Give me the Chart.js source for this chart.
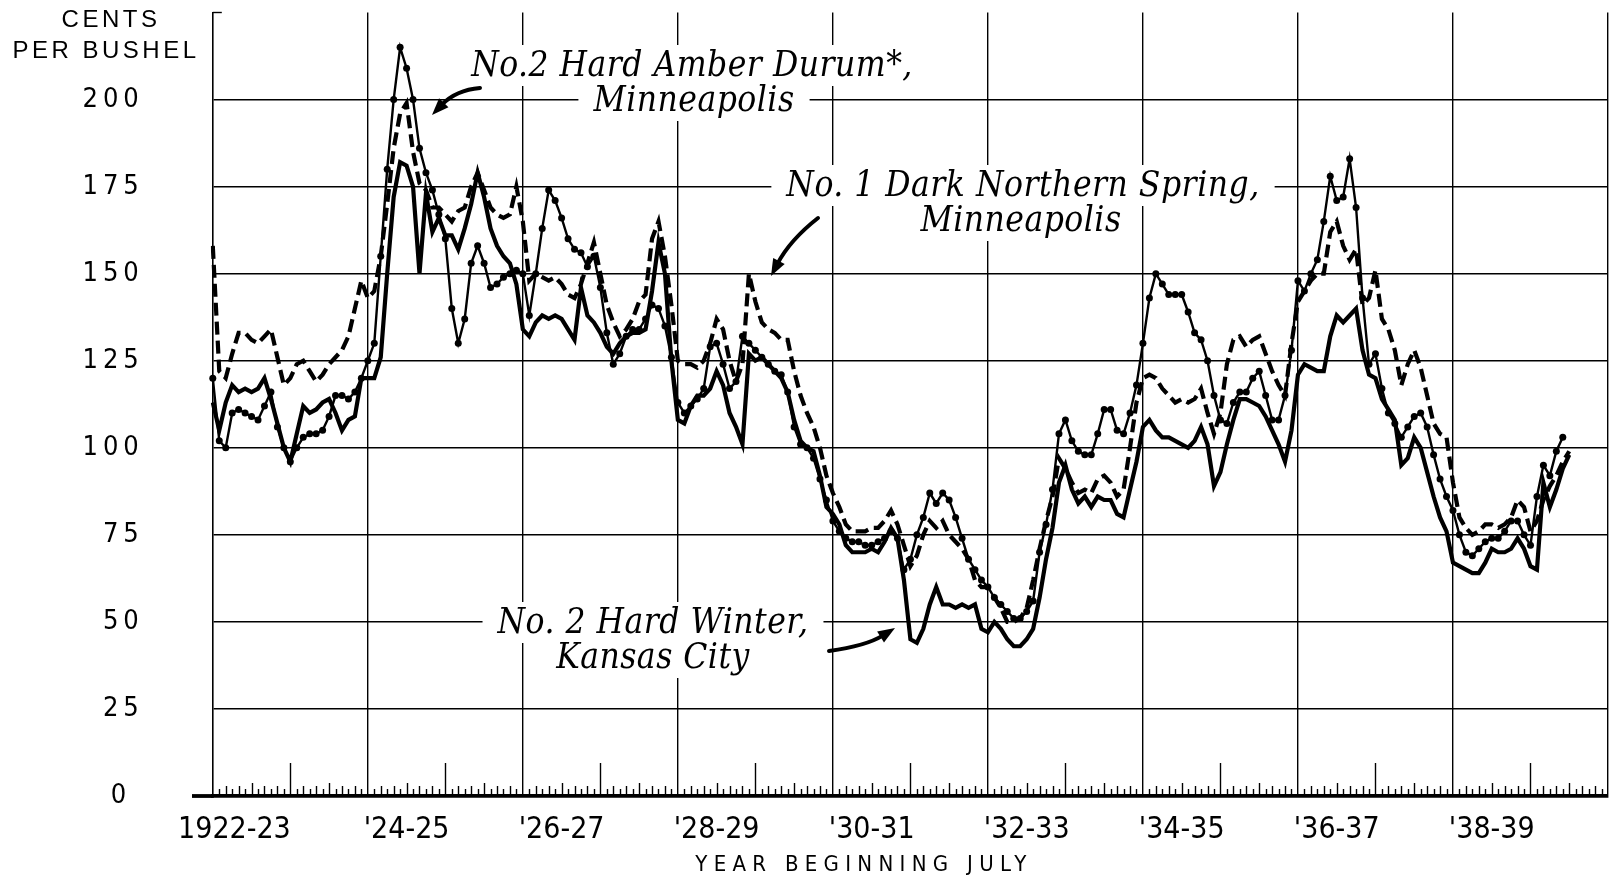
<!DOCTYPE html>
<html>
<head>
<meta charset="utf-8">
<script src="https://cdn.jsdelivr.net/npm/chart.js@4.4.1/dist/chart.umd.min.js"></script>
<style>
html,body{margin:0;padding:0;background:#fff;}
canvas{display:block;}
</style>
</head>
<body>
<canvas id="c" width="1612" height="878"></canvas>
<script>
// ---------- DATA ----------
const START_YEAR = 1922;               // crop year beginning July 1922
const MONTH_NAMES = ['Jul','Aug','Sep','Oct','Nov','Dec','Jan','Feb','Mar','Apr','May','Jun'];
const yearTickLabels = ["1922-23    ", "'24-25", "'26-27", "'28-29", "'30-31", "'32-33", "'34-35", "'36-37", "'38-39"];
const yTickValues = [0, 25, 50, 75, 100, 125, 150, 175, 200];
const xAxisTitle = 'YEAR BEGINNING JULY';
const yAxisTitle = ['CENTS', 'PER BUSHEL'];

// No. 2 Hard Winter, Kansas City (solid line), monthly from July 1922
const hardWinter = [
  113,105,113,118,116,117,116,117,120,114,107,100,
  96,104,112,110,111,113,114,110,105,108,109,120,
  120,120,126,150,172,182,181,175,150,173,162,166,
  161,161,157,163,170,179,172,163,158,155,153,147,
  134,132,136,138,137,138,137,134,131,146,138,136,
  133,129,127,130,132,133,133,134,145,159,150,125,
  108,107,112,115,115,117,122,118,110,106,101,127,
  125,126,124,122,120,116,108,102,100,99,92,83,
  81,78,72,70,70,70,71,70,73,77,74,62,
  45,44,48,55,60,55,55,54,55,54,55,48,
  47,50,48,45,43,43,45,48,57,68,77,90,
  95,88,84,86,83,86,85,85,81,80,88,96,
  106,108,105,103,103,102,101,100,102,106,101,89,
  93,101,108,114,114,113,112,109,105,101,96,105,
  121,124,123,122,122,132,138,136,138,140,128,121,
  120,114,111,108,95,97,103,100,93,86,80,76,
  67,66,65,64,64,67,71,70,70,71,74,71,
  66,65,90,83,88,94,98
];

// No. 1 Dark Northern Spring, Minneapolis (dashed line)
const darkNorthernSpring = [
  158,122,120,127,133,133,131,130,132,134,126,118,
  120,124,125,122,119,121,124,126,128,132,140,148,
  143,145,155,170,186,196,199,185,176,174,169,169,
  167,165,168,169,175,179,174,169,167,166,167,175,
  165,148,150,149,148,149,147,144,143,147,153,159,
  150,141,136,132,134,137,142,144,160,165,155,141,
  125,124,124,123,125,130,137,134,125,119,124,150,
  142,136,134,133,131,131,122,115,110,106,100,92,
  87,83,78,76,76,76,77,77,79,82,78,72,
  66,69,75,79,77,79,75,73,71,68,62,60,
  60,57,54,50,50,51,54,62,71,79,86,97,
  94,90,87,88,87,91,92,90,86,88,100,113,
  120,121,120,117,115,113,114,113,114,117,110,104,
  110,124,131,132,129,131,132,127,122,118,115,130,
  142,145,148,150,150,162,165,158,154,157,141,143,
  151,137,134,128,118,124,128,123,115,107,104,103,
  90,80,77,75,76,78,78,77,78,80,85,83,
  76,79,85,89,92,96,99
];

// No. 2 Hard Amber Durum*, Minneapolis (beaded line)
const hardAmberDurum = [
  120,102,100,110,111,110,109,108,112,116,106,100,
  96,100,103,104,104,105,109,115,115,114,116,120,
  125,130,155,180,200,215,209,200,186,179,174,167,
  160,140,130,137,153,158,153,146,147,149,150,151,
  150,138,150,163,174,171,166,160,157,156,152,155,
  146,133,124,127,132,134,134,137,141,140,135,126,
  113,110,112,114,117,129,130,124,117,119,132,130,
  128,126,124,122,121,116,106,101,100,97,91,85,
  79,76,74,73,73,72,72,73,74,76,74,65,
  68,75,80,87,84,87,85,80,74,68,65,62,
  60,57,55,53,51,51,53,56,70,78,88,104,
  108,102,99,98,98,104,111,111,105,104,110,118,
  130,143,150,147,144,144,144,139,133,131,125,115,
  108,107,113,116,116,120,122,115,108,108,115,128,
  148,145,150,154,165,178,171,172,183,169,143,124,
  127,117,110,107,103,106,109,110,106,98,91,86,
  82,75,70,69,71,73,74,74,76,79,79,75,
  72,86,95,92,99,103
];

// month categories, July 1922 .. July 1940
const categories = [];
for (let i = 0; i <= 216; i++) {
  const yr = START_YEAR + Math.floor(i / 12) + ((i % 12) >= 6 ? 1 : 0);
  categories.push(MONTH_NAMES[i % 12] + ' ' + yr);
}

const AXIS_FONT = '"DejaVu Sans Condensed", "Liberation Sans Narrow", "DejaVu Sans", sans-serif';
const NOTE_FONT = 'italic 35px "DejaVu Serif Condensed", "Liberation Serif", serif';

// ---------- PLUGINS ----------
// x tick labels are drawn with tight spacing, y tick labels (drawn later, z=1) letter-spaced
const spacing = {
  id: 'spacing',
  beforeUpdate(chart) { chart.ctx.letterSpacing = '5px'; },
  beforeDraw(chart) { chart.ctx.letterSpacing = '0px'; }
};

function arrow(ctx, x0, y0, cx, cy, x1, y1) {
  const a = Math.atan2(y1 - cy, x1 - cx);
  const L = 17, W = 6.5;
  const bx = x1 - L * Math.cos(a), by = y1 - L * Math.sin(a);
  ctx.beginPath();
  ctx.moveTo(x0, y0);
  ctx.quadraticCurveTo(cx, cy, bx + 3 * Math.cos(a), by + 3 * Math.sin(a));
  ctx.lineWidth = 4;
  ctx.lineCap = 'round';
  ctx.stroke();
  ctx.beginPath();
  ctx.moveTo(x1, y1);
  ctx.lineTo(bx + W * Math.sin(a), by - W * Math.cos(a));
  ctx.lineTo(bx - W * Math.sin(a), by + W * Math.cos(a));
  ctx.closePath();
  ctx.fill();
}

const NOTES = [
  { lines: ['No.2 Hard Amber Durum*,', 'Minneapolis'], x: [692, 694], y: [76, 111] },
  { lines: ['No. 1 Dark Northern Spring,', 'Minneapolis'], x: [1023, 1021], y: [196, 231] },
  { lines: ['No. 2 Hard Winter,', 'Kansas City'], x: [653, 653], y: [633, 668] }
];

const annotations = {
  id: 'annotations',
  beforeDatasetsDraw(chart) {
    const ctx = chart.ctx;
    ctx.save();
    ctx.font = NOTE_FONT;
    ctx.letterSpacing = '0.5px';
    ctx.textAlign = 'center';
    ctx.textBaseline = 'alphabetic';
    for (const n of NOTES) {
      n.lines.forEach((t, i) => {
        const w = ctx.measureText(t).width;
        ctx.fillStyle = '#fff';
        ctx.fillRect(n.x[i] - w / 2 - 15, n.y[i] - 31, w + 30, 41);
      });
    }
    ctx.fillStyle = '#000';
    for (const n of NOTES) {
      n.lines.forEach((t, i) => ctx.fillText(t, n.x[i], n.y[i]));
    }
    ctx.strokeStyle = '#000';
    ctx.fillStyle = '#000';
    arrow(ctx, 480, 88, 456, 90, 432, 115);
    arrow(ctx, 818, 218, 790, 240, 771, 276);
    arrow(ctx, 829, 651, 866, 646, 895, 628);

    // y-axis caption
    ctx.font = '24px "Liberation Sans", sans-serif';
    ctx.letterSpacing = '3.5px';
    ctx.textBaseline = 'middle';
    ctx.fillText(yAxisTitle[0], 111, 20);
    ctx.fillText(yAxisTitle[1], 106, 51);

    // x-axis caption
    ctx.font = '22px ' + AXIS_FONT;
    ctx.letterSpacing = '6.3px';
    ctx.fillText(xAxisTitle, 864, 865);
    ctx.restore();
  },
  afterDatasetsDraw(chart) {
    const { ctx, scales: { x, y } } = chart;
    const base = y.getPixelForValue(0);
    ctx.save();
    ctx.strokeStyle = '#000';
    ctx.lineWidth = 1.4;
    for (let i = 1; i < categories.length - 1; i++) {
      if (i % 24 === 0) continue;
      const len = (i % 12 === 0) ? 33 : ((i % 6 === 0) ? 13 : ((i % 2 === 0) ? 10 : 7));
      const px = Math.round(x.getPixelForValue(i)) + 0.5;
      ctx.beginPath();
      ctx.moveTo(px, base);
      ctx.lineTo(px, base - len);
      ctx.stroke();
    }
    // baseline extends left of the value axis
    ctx.lineWidth = 3.8;
    ctx.beginPath();
    ctx.moveTo(192, base);
    ctx.lineTo(x.left + 1, base);
    ctx.stroke();
    // small tick at top of value axis
    const top = y.getPixelForValue(225);
    ctx.lineWidth = 1.4;
    ctx.beginPath();
    ctx.moveTo(x.left, top);
    ctx.lineTo(x.left + 9, top);
    ctx.stroke();
    ctx.restore();
    // y tick labels (z = 1) follow with wide letter spacing
    ctx.letterSpacing = '5px';
  }
};

// ---------- CHART ----------
const ctx = document.getElementById('c').getContext('2d');
new Chart(ctx, {
  type: 'line',
  data: {
    labels: categories,
    datasets: [
      {
        label: 'No.2 Hard Amber Durum*, Minneapolis',
        data: hardAmberDurum,
        borderColor: '#000',
        borderWidth: 2.4,
        pointRadius: 3.5,
        pointBackgroundColor: '#000',
        pointBorderWidth: 0,
        tension: 0
      },
      {
        label: 'No. 1 Dark Northern Spring, Minneapolis',
        data: darkNorthernSpring,
        borderColor: '#000',
        borderWidth: 4.2,
        borderDash: [13, 6],
        pointRadius: 0,
        tension: 0
      },
      {
        label: 'No. 2 Hard Winter, Kansas City',
        data: hardWinter,
        borderColor: '#000',
        borderWidth: 4.2,
        pointRadius: 0,
        tension: 0
      }
    ]
  },
  options: {
    responsive: false,
    animation: false,
    devicePixelRatio: 1,
    layout: { padding: { top: 12.5, left: 0, right: 0, bottom: 0 } },
    plugins: { legend: { display: false }, tooltip: { enabled: false } },
    scales: {
      x: {
        type: 'category',
        offset: false,
        grid: {
          drawTicks: true,
          tickLength: 16,
          tickColor: 'rgba(0,0,0,0)',
          lineWidth: 1.4,
          color: c => (c.index % 24 === 0 && c.index > 0) ? '#000' : 'rgba(0,0,0,0)'
        },
        border: { display: true, color: '#000', width: 3.8 },
        ticks: {
          autoSkip: false,
          maxRotation: 0,
          minRotation: 0,
          padding: 0,
          color: '#000',
          font: { family: AXIS_FONT, size: 30 },
          callback: (v, i) => (i % 24 === 6) ? (yearTickLabels[(i - 6) / 24] || '') : ''
        },
        title: { display: false },
        afterFit: s => { s.height = 82; }
      },
      y: {
        min: 0,
        max: 225,
        afterBuildTicks: s => { s.ticks = yTickValues.map(v => ({ value: v })); },
        grid: {
          drawTicks: true,
          tickLength: 69,
          tickColor: 'rgba(0,0,0,0)',
          lineWidth: 1.4,
          color: c => (c.tick.value === 0) ? 'rgba(0,0,0,0)' : '#000'
        },
        border: { display: true, color: '#000', width: 1.6 },
        ticks: {
          z: 1,
          padding: 0,
          crossAlign: 'near',
          color: '#000',
          font: { family: AXIS_FONT, size: 27, lineHeight: 0.6 },
          callback: v => (v === 0 ? '0 ' : String(v))
        },
        afterFit: s => { s.width = 212.8; }
      }
    }
  },
  plugins: [spacing, annotations]
});
</script>
</body>
</html>
